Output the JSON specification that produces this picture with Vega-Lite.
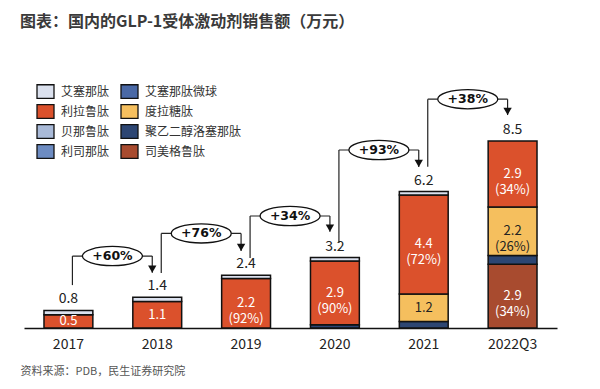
{
  "$schema": "https://vega.github.io/schema/vega-lite/v6.json",
  "width": 533,
  "height": 242,
  "autosize": {"type": "none"},
  "padding": {"left": 24, "top": 86, "right": 43, "bottom": 61},
  "background": "white",
  "title": {"text": "图表：国内的GLP-1受体激动剂销售额（万元）", "anchor": "start", "frame": "group", "dx": -4, "offset": 52, "fontSize": 16, "font": "Noto Sans CJK SC", "fontWeight": "bold", "color": "#3a3a3a"},
  "datasets": {
    "sales": [
      {"year": "2017", "drug": "利拉鲁肽", "ord": 5, "value": 0.6, "label": "0.5"},
      {"year": "2017", "drug": "艾塞那肽", "ord": 8, "value": 0.2, "label": ""},
      {"year": "2018", "drug": "利拉鲁肽", "ord": 5, "value": 1.2, "label": "1.1"},
      {"year": "2018", "drug": "艾塞那肽", "ord": 8, "value": 0.2, "label": ""},
      {"year": "2019", "drug": "利拉鲁肽", "ord": 5, "value": 2.25, "label": "2.2\n(92%)"},
      {"year": "2019", "drug": "艾塞那肽", "ord": 8, "value": 0.15, "label": ""},
      {"year": "2020", "drug": "聚乙二醇洛塞那肽", "ord": 2, "value": 0.15, "label": ""},
      {"year": "2020", "drug": "利拉鲁肽", "ord": 5, "value": 2.9, "label": "2.9\n(90%)"},
      {"year": "2020", "drug": "艾塞那肽", "ord": 8, "value": 0.15, "label": ""},
      {"year": "2021", "drug": "聚乙二醇洛塞那肽", "ord": 2, "value": 0.3, "label": ""},
      {"year": "2021", "drug": "度拉糖肽", "ord": 4, "value": 1.25, "label": "1.2"},
      {"year": "2021", "drug": "利拉鲁肽", "ord": 5, "value": 4.5, "label": "4.4\n(72%)"},
      {"year": "2021", "drug": "艾塞那肽", "ord": 8, "value": 0.15, "label": ""},
      {"year": "2022Q3", "drug": "司美格鲁肽", "ord": 1, "value": 2.9, "label": "2.9\n(34%)"},
      {"year": "2022Q3", "drug": "聚乙二醇洛塞那肽", "ord": 2, "value": 0.4, "label": ""},
      {"year": "2022Q3", "drug": "度拉糖肽", "ord": 4, "value": 2.2, "label": "2.2\n(26%)"},
      {"year": "2022Q3", "drug": "利拉鲁肽", "ord": 5, "value": 3.0, "label": "2.9\n(34%)"}
    ],
    "growth": [
      {"from": "2017", "to": "2018", "rate": "+60%", "start": 1.95, "top": 3.27, "tip": 2.51},
      {"from": "2018", "to": "2019", "rate": "+76%", "start": 2.5, "top": 4.3, "tip": 3.5},
      {"from": "2019", "to": "2020", "rate": "+34%", "start": 3.18, "top": 5.09, "tip": 4.38},
      {"from": "2020", "to": "2021", "rate": "+93%", "start": 3.86, "top": 8.09, "tip": 7.32},
      {"from": "2021", "to": "2022Q3", "rate": "+38%", "start": 7.33, "top": 10.4, "tip": 9.68}
    ]
  },
  "layer": [
    {
      "data": {"name": "sales"},
      "mark": {"type": "bar", "stroke": "#111", "strokeWidth": 1.5},
      "encoding": {
        "x": {"field": "year", "type": "nominal",
          "scale": {"domain": ["2017", "2018", "2019", "2020", "2021", "2022Q3"], "paddingInner": 0.45, "paddingOuter": 0.225},
          "axis": {"title": "资料来源：PDB，民生证券研究院", "titleX": -4, "titleY": 43, "titleAlign": "left", "titleAnchor": null, "titleBaseline": "middle", "titleFontSize": 11, "titleFontWeight": "normal", "titleColor": "#555", "titleFont": "Noto Sans CJK SC",
            "labelAngle": 0, "labelFontSize": 14, "labelFont": "Noto Sans CJK SC", "labelColor": "#222", "labelPadding": 9, "ticks": false, "domainColor": "#111", "domainWidth": 1.3, "grid": false}},
        "y": {"field": "value", "type": "quantitative", "stack": "zero", "scale": {"domain": [0, 11], "nice": false}, "axis": null},
        "color": {"field": "drug", "type": "nominal",
          "scale": {"domain": ["艾塞那肽", "利拉鲁肽", "贝那鲁肽", "利司那肽", "艾塞那肽微球", "度拉糖肽", "聚乙二醇洛塞那肽", "司美格鲁肽"],
                    "range": ["#dbe1ee", "#db512c", "#a9bad8", "#6d8cc2", "#4a69a6", "#f5bf5e", "#2d4673", "#a84b2f"]},
          "legend": {"orient": "none", "legendX": 12, "legendY": -4, "columns": 2, "columnPadding": 8, "rowPadding": 1, "labelOffset": 6, "labelFontSize": 12, "labelFont": "Noto Sans CJK SC", "labelColor": "#333", "title": null, "symbolType": "M-1,-0.8H1V0.8H-1Z", "symbolSize": 289, "symbolStrokeColor": "#111", "symbolStrokeWidth": 1.3, "symbolOpacity": 1}},
        "order": {"field": "ord", "type": "quantitative"}
      }
    },
    {
      "data": {"name": "sales"},
      "mark": {"type": "text", "baseline": "middle", "align": "center", "lineBreak": "\n", "lineHeight": 16, "fontSize": 13, "font": "Noto Sans CJK SC"},
      "encoding": {
        "x": {"field": "year", "type": "nominal"},
        "y": {"field": "value", "type": "quantitative", "stack": "zero", "bandPosition": 0.5, "axis": null},
        "detail": {"field": "drug"},
        "order": {"field": "ord", "type": "quantitative"},
        "text": {"field": "label"},
        "color": {"condition": {"test": "datum.drug === '度拉糖肽'", "value": "#222"}, "value": "#ffffff"}
      }
    },
    {
      "data": {"name": "sales"},
      "mark": {"type": "text", "baseline": "middle", "align": "center", "dy": -11, "fontSize": 14, "font": "Noto Sans CJK SC", "color": "#222"},
      "encoding": {
        "x": {"field": "year", "type": "nominal"},
        "y": {"aggregate": "sum", "field": "value", "type": "quantitative", "axis": null},
        "text": {"aggregate": "sum", "field": "value", "type": "quantitative", "format": ".1f"}
      }
    },
    {
      "data": {"name": "growth"},
      "mark": {"type": "rule", "xOffset": 4, "stroke": "#222", "strokeWidth": 1.2},
      "encoding": {
        "x": {"field": "from", "type": "nominal"},
        "y": {"field": "start", "type": "quantitative", "axis": null},
        "y2": {"field": "top"}
      }
    },
    {
      "data": {"name": "growth"},
      "mark": {"type": "rule", "xOffset": 4, "x2Offset": -5, "stroke": "#222", "strokeWidth": 1.2},
      "encoding": {
        "x": {"field": "from", "type": "nominal"},
        "x2": {"field": "to"},
        "y": {"field": "top", "type": "quantitative", "axis": null}
      }
    },
    {
      "data": {"name": "growth"},
      "mark": {"type": "rule", "xOffset": -5, "stroke": "#222", "strokeWidth": 1.2},
      "encoding": {
        "x": {"field": "to", "type": "nominal"},
        "y": {"field": "top", "type": "quantitative", "axis": null},
        "y2": {"field": "tip"}
      }
    },
    {
      "data": {"name": "growth"},
      "mark": {"type": "point", "shape": "triangle-down", "size": 70, "filled": true, "color": "#111", "opacity": 1, "xOffset": -5, "yOffset": -3.6},
      "encoding": {
        "x": {"field": "to", "type": "nominal"},
        "y": {"field": "tip", "type": "quantitative", "axis": null}
      }
    },
    {
      "data": {"name": "growth"},
      "mark": {"type": "point", "shape": "M-1,0A1,0.32,0,1,1,1,0A1,0.32,0,1,1,-1,0Z", "size": 3600, "filled": true, "fill": "white", "stroke": "#111", "strokeWidth": 1.3, "opacity": 1, "xOffset": 44},
      "encoding": {
        "x": {"field": "from", "type": "nominal"},
        "y": {"field": "top", "type": "quantitative", "axis": null}
      }
    },
    {
      "data": {"name": "growth"},
      "mark": {"type": "text", "baseline": "middle", "align": "center", "xOffset": 44, "fontSize": 12.5, "font": "DejaVu Sans", "fontWeight": "bold", "color": "#111"},
      "encoding": {
        "x": {"field": "from", "type": "nominal"},
        "y": {"field": "top", "type": "quantitative", "axis": null},
        "text": {"field": "rate"}
      }
    }
  ],
  "config": {
    "view": {"stroke": null}
  }
}
